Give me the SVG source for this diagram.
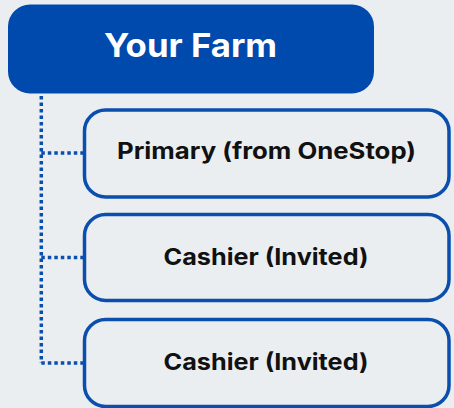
<svg xmlns="http://www.w3.org/2000/svg" width="454" height="408" viewBox="0 0 454 408">
<style>
.child rect{fill:#ebeef0;stroke:#0a4fae;stroke-width:3.5}
.lbl{font-family:Inter,"Open Sans","Liberation Sans",sans-serif;font-weight:700;font-size:23px;fill:#111;text-anchor:middle;lengthAdjust:spacingAndGlyphs}
.conn{fill:none;stroke:#0a4fae;stroke-width:3.5;stroke-dasharray:3.5 3}
</style>
<rect width="454" height="408" fill="#ebeef0"/>
<g id="conn">
<path class="conn" d="M41.3 96 V363 M41.3 153 H83 M41.3 257.5 H83 M41.3 363 H83"/>
</g>
<g id="farm">
<rect x="8" y="4.5" width="366" height="89" rx="22" fill="#004aad"/>
<text x="190.5" y="57" class="lbl" style="font-size:32px;fill:#fff" textLength="173" lengthAdjust="spacingAndGlyphs">Your Farm</text>
</g>
<g id="primary" class="child">
<rect x="84.5" y="110" width="364.5" height="87" rx="21"/>
<text x="266.5" y="159.3" class="lbl" textLength="299" lengthAdjust="spacingAndGlyphs">Primary (from OneStop)</text>
</g>
<g id="cashier1" class="child">
<rect x="84.5" y="214.5" width="364.5" height="86" rx="21"/>
<text x="266" y="264.5" class="lbl" textLength="205" lengthAdjust="spacingAndGlyphs">Cashier (Invited)</text>
</g>
<g id="cashier2" class="child">
<rect x="84.5" y="319.5" width="364.5" height="87" rx="21"/>
<text x="266" y="370" class="lbl" textLength="205" lengthAdjust="spacingAndGlyphs">Cashier (Invited)</text>
</g>
</svg>
